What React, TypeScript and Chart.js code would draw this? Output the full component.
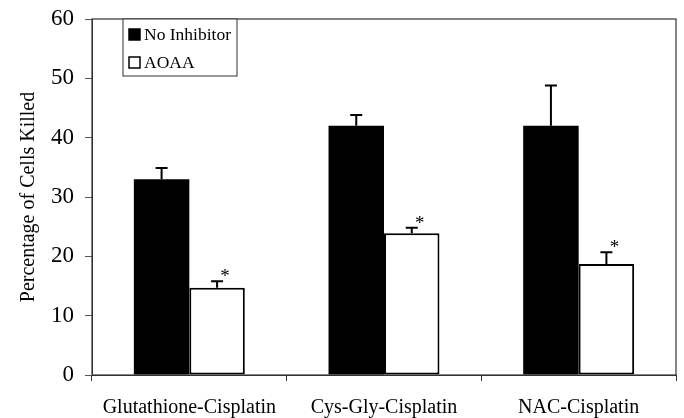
import React, { useEffect, useRef } from "react";
import { Chart, registerables } from "chart.js";

Chart.register(...registerables);

const categories = ["Glutathione-Cisplatin", "Cys-Gly-Cisplatin", "NAC-Cisplatin"];
const noInhibitor = [33.0, 42.0, 42.0];
const noInhibitorErr = [1.9, 1.8, 6.8];
const aoaa = [14.7, 23.9, 18.7];
const aoaaErr = [1.1, 0.9, 2.0];
const significant = [true, true, true];
const yTicks = [0, 10, 20, 30, 40, 50, 60];

const FONT = "'Liberation Serif', 'DejaVu Serif', serif";

const errorPlugin = {
  id: "errorBars",
  afterDatasetsDraw(chart: any) {
    const ctx = chart.ctx;
    const y = chart.scales.y;
    const errs = [noInhibitorErr, aoaaErr];
    ctx.save();
    ctx.strokeStyle = "#000";
    ctx.lineWidth = 2;
    chart.data.datasets.forEach((ds: any, di: number) => {
      const meta = chart.getDatasetMeta(di);
      meta.data.forEach((bar: any, i: number) => {
        const v = ds.data[i];
        const top = y.getPixelForValue(v + errs[di][i]);
        const base = y.getPixelForValue(v);
        const cx = bar.x;
        ctx.beginPath();
        ctx.moveTo(cx, base);
        ctx.lineTo(cx, top);
        ctx.moveTo(cx - 6, top);
        ctx.lineTo(cx + 6, top);
        ctx.stroke();
        if (di === 1 && significant[i]) {
          ctx.fillStyle = "#000";
          ctx.font = `19px ${FONT}`;
          ctx.textAlign = "center";
          ctx.textBaseline = "middle";
          ctx.fillText("*", cx + 8, top - 4);
        }
      });
    });
    ctx.restore();
  },
};

const framePlugin = {
  id: "frame",
  afterDraw(chart: any) {
    const { ctx, chartArea } = chart;
    ctx.save();
    ctx.strokeStyle = "#333";
    ctx.lineWidth = 1.2;
    ctx.strokeRect(chartArea.left, chartArea.top, chartArea.right - chartArea.left, chartArea.bottom - chartArea.top);
    // legend box
    const lx = chartArea.left + 31;
    const ly = chartArea.top;
    const lw = 114;
    const lh = 57;
    ctx.fillStyle = "#fff";
    ctx.fillRect(lx, ly, lw, lh);
    ctx.strokeStyle = "#333";
    ctx.lineWidth = 1;
    ctx.strokeRect(lx, ly, lw, lh);
    chart.data.datasets.forEach((ds: any, i: number) => {
      const sy = ly + 10 + i * 28;
      ctx.fillStyle = ds.backgroundColor;
      ctx.fillRect(lx + 6, sy, 11, 11);
      ctx.strokeStyle = "#000";
      ctx.lineWidth = 1.5;
      ctx.strokeRect(lx + 6, sy, 11, 11);
      ctx.fillStyle = "#000";
      ctx.font = `17.5px ${FONT}`;
      ctx.textAlign = "left";
      ctx.textBaseline = "middle";
      ctx.fillText(ds.label, lx + 21, sy + 6);
    });
    ctx.restore();
  },
};

export default function App() {
  const ref = useRef<HTMLCanvasElement>(null);
  useEffect(() => {
    document.body.style.margin = "0";
    const chart = new Chart(ref.current!, {
      type: "bar",
      data: {
        labels: categories,
        datasets: [
          {
            label: "No Inhibitor",
            data: noInhibitor,
            backgroundColor: "#000",
            borderColor: "#000",
            borderWidth: 0,
            categoryPercentage: 0.57,
            barPercentage: 1,
          },
          {
            label: "AOAA",
            data: aoaa,
            backgroundColor: "#fff",
            borderColor: "#000",
            borderWidth: 2,
            borderSkipped: false,
            categoryPercentage: 0.57,
            barPercentage: 1,
          },
        ],
      },
      options: {
        animation: false,
        responsive: false,
        layout: { padding: { top: 19, right: 8, left: 0, bottom: 0 } },
        plugins: { legend: { display: false }, tooltip: { enabled: false } },
        scales: {
          x: {
            grid: { display: true, drawOnChartArea: false, offset: true, tickLength: 6, color: "#333" },
            border: { display: true, color: "#333" },
            ticks: { color: "#000", font: { family: FONT, size: 20 }, padding: 15 },
            afterFit(scale: any) {
              scale.height = 43;
            },
          } as any,
          y: {
            min: 0,
            max: 60,
            afterBuildTicks(scale: any) {
              scale.ticks = yTicks.map((v) => ({ value: v }));
            },
            grid: { display: true, drawOnChartArea: false, tickLength: 7, color: "#555" },
            border: { display: true, color: "#333" },
            ticks: { color: "#000", font: { family: FONT, size: 23 }, padding: 11 },
            title: {
              display: true,
              text: "Percentage of Cells Killed",
              color: "#000",
              font: { family: FONT, size: 20 },
              padding: { top: 17, bottom: 0 },
            },
            afterFit(scale: any) {
              scale.width = 92;
              scale.paddingTop = 0;
              scale.paddingBottom = 0;
            },
          },
        },
      },
      plugins: [errorPlugin, framePlugin],
    });
    return () => chart.destroy();
  }, []);
  return (
    <div style={{ width: 684, height: 418 }}>
      <canvas ref={ref} width={684} height={418} style={{ display: "block" }} />
    </div>
  );
}
